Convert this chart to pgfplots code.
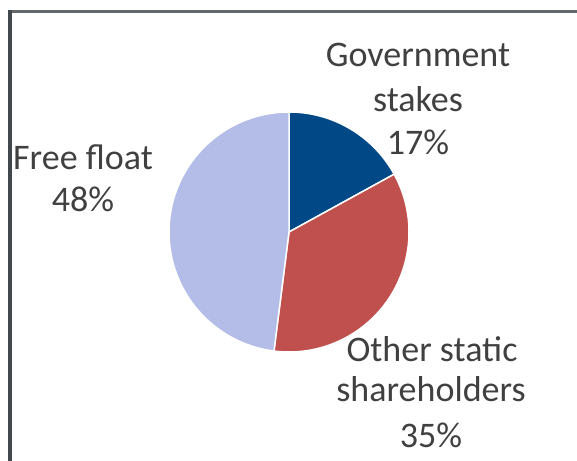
\documentclass[border=0pt]{standalone}
\usepackage{fontspec}
\setmainfont{Carlito}
\usepackage{pgfplots}
\usepackage{pgfplotstable}
\pgfplotsset{compat=1.18}
\definecolor{govblue}{RGB}{0,72,134}
\definecolor{otherred}{RGB}{192,80,77}
\definecolor{freeblue}{RGB}{180,189,232}
\definecolor{txt}{RGB}{64,64,64}
\definecolor{frametop}{RGB}{100,104,106}
\definecolor{frameleft}{RGB}{66,72,76}
\pgfplotstableread{
share
17
35
48
}\sharetable
\begin{document}
\begin{tikzpicture}
\pgfplotstablegetelem{0}{share}\of\sharetable \let\sA\pgfplotsretval
\pgfplotstablegetelem{1}{share}\of\sharetable \let\sB\pgfplotsretval
\pgfplotstablegetelem{2}{share}\of\sharetable \let\sC\pgfplotsretval
\pgfmathsetmacro{\aA}{90}
\pgfmathsetmacro{\aB}{90-3.6*\sA}
\pgfmathsetmacro{\aC}{\aB-3.6*\sB}
\pgfmathsetmacro{\aD}{\aC-3.6*\sC}
\begin{axis}[scale only axis, width=577bp, height=461bp,
  xmin=0, xmax=577, ymin=0, ymax=461, hide axis, clip=false]
\coordinate (bl) at (axis cs:0,0);
\coordinate (tr) at (axis cs:577,461);
\addplot[fill=govblue, draw=white, line width=1.5bp, domain=\aB:\aA, samples=60, variable=\t]
  ({289+120*cos(\t)},{229+120*sin(\t)}) -- (axis cs:289,229) -- cycle;
\addplot[fill=otherred, draw=white, line width=1.5bp, domain=\aC:\aB, samples=80, variable=\t]
  ({289+120*cos(\t)},{229+120*sin(\t)}) -- (axis cs:289,229) -- cycle;
\addplot[fill=freeblue, draw=white, line width=1.5bp, domain=\aD:\aC, samples=100, variable=\t]
  ({289+120*cos(\t)},{229+120*sin(\t)}) -- (axis cs:289,229) -- cycle;
\draw[frametop, line width=2.5bp] (axis cs:9,449.5) -- (axis cs:577,449.5);
\draw[frameleft, line width=3.5bp] (axis cs:10,450.5) -- (axis cs:10,0);
\begin{scope}[every node/.style={anchor=base, inner sep=0pt, text=txt, font=\fontsize{36bp}{44bp}\selectfont}]
\node at (axis cs:418,394) {Government};
\node at (axis cs:418,349) {stakes};
\node at (axis cs:418,306) {17\%};
\node at (axis cs:83,291) {Free float};
\node at (axis cs:83,249) {48\%};
\node at (axis cs:432,99) {Other static};
\node at (axis cs:431,59) {shareholders};
\node at (axis cs:431,14) {35\%};
\end{scope}
\end{axis}
\pgfresetboundingbox
\path (bl) rectangle (tr);
\end{tikzpicture}
\end{document}
